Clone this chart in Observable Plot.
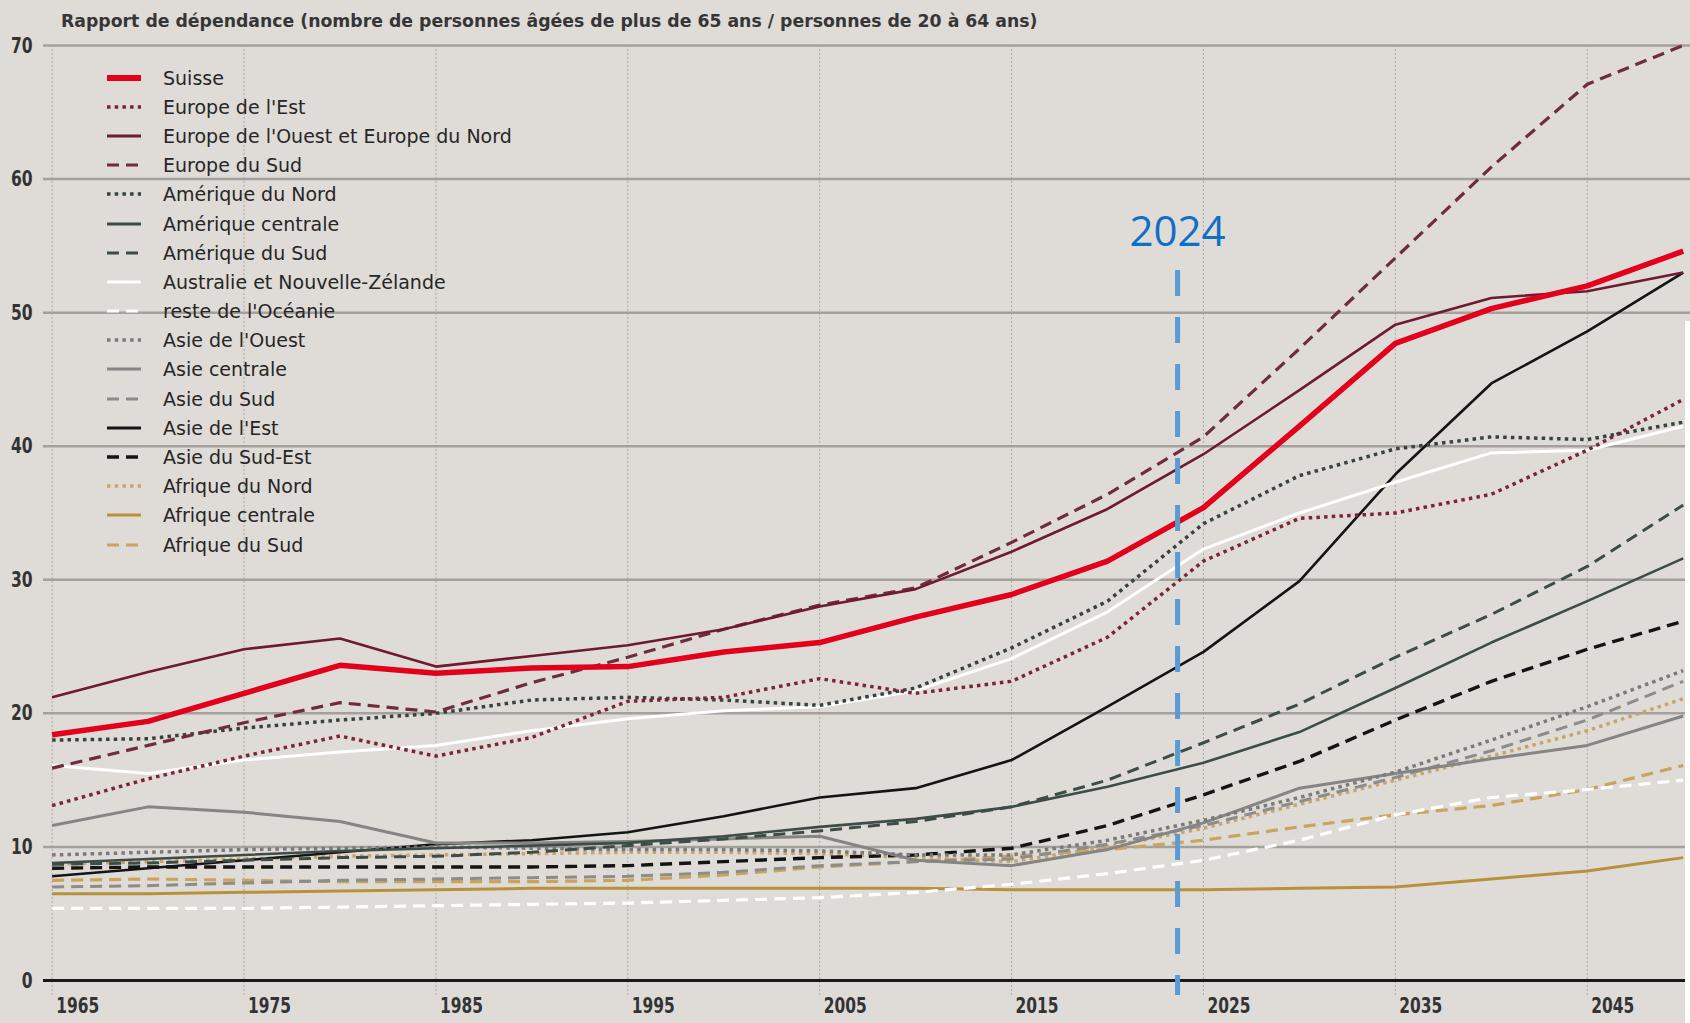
<!DOCTYPE html>
<html><head><meta charset="utf-8">
<script src="https://cdn.jsdelivr.net/npm/d3@7"></script>
<script src="https://cdn.jsdelivr.net/npm/@observablehq/plot@0.6"></script>
<style>
html,body{margin:0;padding:0;background:#dfdbd7;}
#wrap{position:relative;width:1690px;height:1023px;overflow:hidden;background:#dfdbd7;}
#chart{position:absolute;left:0;top:0;}
#title{position:absolute;left:61px;top:11px;font:bold 17.3px "DejaVu Sans",sans-serif;color:#363636;white-space:nowrap;}
#legend{position:absolute;left:107px;top:63px;font:19px "DejaVu Sans",sans-serif;color:#262626;}
.row{height:29.2px;display:flex;align-items:center;white-space:nowrap;}
.row svg{width:34px;height:12px;margin-right:22px;flex:none;}
#crop{position:absolute;left:1685px;top:321px;width:5px;height:702px;background:#fff;}
</style></head><body>
<div id="wrap"><div id="chart"></div>
<div id="title">Rapport de dépendance (nombre de personnes âgées de plus de 65 ans / personnes de 20 à 64 ans)</div>
<div id="legend"></div><div id="crop"></div></div>
<script>
// ---- data ----
const years = [1965,1970,1975,1980,1985,1990,1995,2000,2005,2010,2015,2020,2025,2030,2035,2040,2045,2050];
const xTicks = [1965,1975,1985,1995,2005,2015,2025,2035,2045];
const yTicks = [0,10,20,30,40,50,60,70];
const seriesNames = ["Suisse","Europe de l'Est","Europe de l'Ouest et Europe du Nord","Europe du Sud","Amérique du Nord","Amérique centrale","Amérique du Sud","Australie et Nouvelle-Zélande","reste de l'Océanie","Asie de l'Ouest","Asie centrale","Asie du Sud","Asie de l'Est","Asie du Sud-Est","Afrique du Nord","Afrique centrale","Afrique du Sud"];
const suisse          = [18.4,19.4,21.5,23.6,23.0,23.4,23.5,24.6,25.3,27.2,28.9,31.4,35.4,41.5,47.7,50.3,52.0,54.6];
const europeEst       = [13.1,15.1,16.8,18.3,16.8,18.2,20.9,21.2,22.6,21.5,22.4,25.7,31.4,34.6,35.0,36.4,39.7,43.5];
const europeOuestNord = [21.2,23.1,24.8,25.6,23.5,24.3,25.1,26.3,28.0,29.3,32.1,35.3,39.4,44.2,49.1,51.1,51.6,53.0];
const europeSud       = [15.9,17.6,19.3,20.8,20.1,22.3,24.2,26.3,28.1,29.4,32.8,36.4,40.7,47.3,54.1,60.9,67.1,70.0];
const ameriqueNord    = [18.0,18.1,18.9,19.5,20.0,21.0,21.2,21.0,20.6,21.9,24.9,28.4,34.2,37.8,39.8,40.7,40.5,41.8];
const ameriqueCentrale= [8.8,9.1,9.4,9.7,9.9,10.1,10.3,10.8,11.5,12.1,13.0,14.5,16.3,18.6,21.9,25.3,28.4,31.6];
const ameriqueSud     = [8.7,8.8,9.0,9.2,9.3,9.6,10.1,10.6,11.2,11.9,13.0,15.0,17.8,20.7,24.2,27.4,31.0,35.6];
const australieNZ     = [16.1,15.5,16.5,17.1,17.6,18.7,19.6,20.2,20.5,21.7,24.1,27.6,32.3,35.0,37.3,39.5,39.7,41.5];
const resteOceanie    = [5.4,5.4,5.4,5.5,5.6,5.7,5.8,6.0,6.2,6.6,7.2,8.0,9.0,10.5,12.4,13.7,14.3,15.0];
const asieOuest       = [9.4,9.6,9.8,9.9,10.0,9.9,9.8,9.8,9.7,9.4,9.4,10.5,12.0,13.7,15.6,18.0,20.5,23.2];
const asieCentrale    = [11.6,13.0,12.6,11.9,10.3,10.3,10.4,10.6,10.8,9.0,8.6,9.8,11.8,14.4,15.5,16.6,17.6,19.8];
const asieSud         = [7.0,7.1,7.3,7.5,7.6,7.7,7.8,8.1,8.6,8.9,9.1,10.2,11.6,13.4,15.2,17.2,19.5,22.4];
const asieEst         = [7.8,8.4,9.0,9.6,10.2,10.5,11.1,12.3,13.7,14.4,16.5,20.5,24.6,29.9,37.9,44.7,48.6,53.0];
const asieSudEst      = [8.4,8.5,8.5,8.5,8.5,8.5,8.6,8.9,9.2,9.4,9.9,11.6,13.9,16.4,19.5,22.4,24.8,26.9];
const afriqueNord     = [8.7,8.9,9.1,9.3,9.4,9.5,9.6,9.6,9.5,9.2,8.9,10.0,11.4,13.2,15.0,16.8,18.7,21.1];
const afriqueCentrale = [6.5,6.5,6.6,6.7,6.8,6.9,6.9,6.9,6.9,6.9,6.8,6.8,6.8,6.9,7.0,7.6,8.2,9.2];
const afriqueSud      = [7.5,7.6,7.5,7.4,7.4,7.4,7.5,7.9,8.5,8.9,9.3,9.8,10.5,11.5,12.4,13.1,14.3,16.1];
const seriesValues = [suisse,europeEst,europeOuestNord,europeSud,ameriqueNord,ameriqueCentrale,ameriqueSud,australieNZ,resteOceanie,asieOuest,asieCentrale,asieSud,asieEst,asieSudEst,afriqueNord,afriqueCentrale,afriqueSud];
const markerYear = 2023.65, markerLabel = "2024", markerTop = 53.15, markerBottom = -1.12, markerLabelY = 56;

// ---- styles ----
const DOT = "3.5,4.2", DASH = "12,7";
const styles = [
  {c:"#e2001a", w:5.5, d:null},
  {c:"#7b2434", w:3.5, d:DOT},
  {c:"#6f1a2e", w:2.6, d:null},
  {c:"#6f2c3a", w:3.2, d:DASH},
  {c:"#36433e", w:3.5, d:DOT},
  {c:"#3e4c48", w:2.6, d:null},
  {c:"#3e4c48", w:3.0, d:DASH},
  {c:"#ffffff", w:3.0, d:null},
  {c:"#ffffff", w:3.2, d:DASH},
  {c:"#7a7a7a", w:3.5, d:DOT},
  {c:"#858585", w:3.0, d:null},
  {c:"#8c8c8c", w:3.0, d:DASH},
  {c:"#141414", w:2.6, d:null},
  {c:"#141414", w:3.4, d:DASH},
  {c:"#c9a46c", w:3.5, d:DOT},
  {c:"#b8913c", w:3.0, d:null},
  {c:"#c9a45f", w:3.2, d:DASH}
];

const table = [];
seriesNames.forEach((n,i)=>years.forEach((y,j)=>table.push({series:n, year:y, value:seriesValues[i][j], idx:i})));

const order = d3.range(seriesNames.length).reverse();
const lineMarks = order.map(i => Plot.line(table.filter(d=>d.idx===i), {
  x:"year", y:"value", stroke:styles[i].c, strokeWidth:styles[i].w,
  strokeDasharray:styles[i].d || undefined, strokeLinejoin:"round", strokeLinecap:"butt"
}));

const tickFont = '"DejaVu Sans Condensed",sans-serif';
const chart = Plot.plot({
  width:1690, height:1023,
  marginLeft:43, marginRight:0, marginTop:45, marginBottom:43,
  style:{background:"transparent", overflow:"visible"},
  x:{domain:[1964.55,2050.38]},
  y:{domain:[0,70]},
  marks:[
    Plot.ruleX(xTicks, {x:d=>d, y1:-1.12, y2:70, stroke:"#aca8a4", strokeWidth:1, strokeDasharray:"2,2"}),
    Plot.ruleY(yTicks.filter(d=>d>0), {y:d=>d, stroke:"#a4a09c", strokeWidth:2.5}),
    ...lineMarks,
    Plot.ruleY([0], {y:d=>d, stroke:"#1a1a1a", strokeWidth:3}),
    Plot.ruleX([markerYear], {x:d=>d, y1:markerTop, y2:markerBottom, stroke:"#5b9bd5", strokeWidth:5, strokeDasharray:"26,21"}),
    Plot.text([markerLabel], {x:markerYear, y:markerLabelY, text:d=>d, fill:"#0f6fc4", fontSize:42, fontFamily:'"Open Sans","Noto Sans",sans-serif', textAnchor:"middle", lineAnchor:"middle"}),
    Plot.axisY({ticks:yTicks, label:null, tickSize:0, tickPadding:11, fontSize:22, fontWeight:"bold", fontFamily:tickFont, fill:"#333", tickFormat:d=>String(d)}),
    Plot.axisX({ticks:xTicks, label:null, tickSize:0, tickPadding:17, fontSize:22, fontWeight:"bold", fontFamily:tickFont, fill:"#333", textAnchor:"start", dx:4, tickFormat:d=>String(d)})
  ]
});
document.getElementById("chart").appendChild(chart);

// narrow the tick labels (condensed face of the original)
d3.select(chart).selectAll('g[aria-label="x-axis tick label"] text')
  .attr("textLength", 43).attr("lengthAdjust","spacingAndGlyphs");
d3.select(chart).selectAll('g[aria-label="y-axis tick label"] text')
  .each(function(){ const t=this.textContent; d3.select(this).attr("textLength", 10.8*t.length).attr("lengthAdjust","spacingAndGlyphs"); });

// ---- legend ----
const leg = document.getElementById("legend");
seriesNames.forEach((n,i)=>{
  const s = styles[i];
  const row = document.createElement("div"); row.className="row";
  const w = i===0 ? 6 : Math.max(s.w,3.2);
  row.innerHTML = `<svg viewBox="0 0 34 12"><line x1="0" y1="6" x2="34" y2="6" stroke="${s.c}" stroke-width="${w}" ${s.d?`stroke-dasharray="${s.d}"`:""}/></svg><span>${n}</span>`;
  leg.appendChild(row);
});
</script>
</body></html>
